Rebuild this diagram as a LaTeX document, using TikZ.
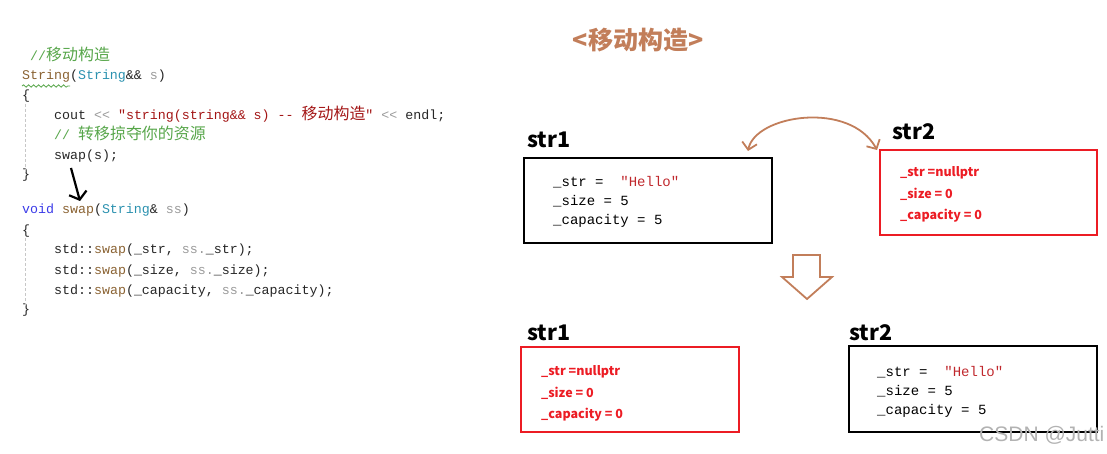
\documentclass[tikz,border=0pt]{standalone}
\usepackage{fontspec}
\setmonofont{Liberation Mono}
\newfontfamily\cjk{Noto Sans CJK SC}
\newfontfamily\cjkcode{Noto Sans CJK SC}[Scale=1.2]
\newfontfamily\wmark{Liberation Sans}
\usetikzlibrary{arrows.meta,decorations.pathmorphing}
\definecolor{cmt}{HTML}{57A64A}
\definecolor{typ}{HTML}{2B91AF}
\definecolor{kwd}{HTML}{3B3BE8}
\definecolor{fnc}{HTML}{8A6232}
\definecolor{lit}{HTML}{A31515}
\definecolor{prm}{HTML}{9A9A9A}
\definecolor{txt}{HTML}{262626}
\definecolor{umber}{HTML}{C27E5A}
\definecolor{alert}{HTML}{EC1C24}
\definecolor{hello}{HTML}{C0282D}
\newcommand{\ty}[1]{\textcolor{typ}{#1}}
\newcommand{\fn}[1]{\textcolor{fnc}{#1}}
\newcommand{\pr}[1]{\textcolor{prm}{#1}}

\begin{document}
\begin{tikzpicture}[x=1pt, y=-1pt,
  code/.style={anchor=base west, inner sep=0pt, text=txt, font=\ttfamily\fontsize{13.3}{16}\selectfont},
  memo/.style={anchor=base west, inner sep=0pt, text=black, font=\ttfamily\fontsize{14}{16}\selectfont},
  nulltext/.style={anchor=base west, inner sep=0pt, text=alert, font=\cjk\bfseries\fontsize{12.5}{15}\selectfont},
  objname/.style={anchor=base west, inner sep=0pt, font=\cjk\bfseries\fontsize{21.5}{24}\selectfont},
  oldbox/.style={draw=black, line width=2.6pt, inner sep=0pt, minimum width=248pt, minimum height=85pt},
  newbox/.style={draw=alert, line width=2.2pt, inner sep=0pt, minimum width=217pt, minimum height=85pt},
  guide/.style={densely dashed, line width=0.6pt, black!22}]
  \useasboundingbox (0,0) rectangle (1107,454);

  \node[code, text=cmt] (c1) at (30,61) {//{\cjkcode 移动构造}};
  \node[code] (c2) at (22,80) {\fn{String}(\ty{String}\&\& \pr{s})};
  \node[code] (c3) at (22,100) {\{};
  \node[code] (c4) at (54,120) {cout \pr{<{}<} \textcolor{lit}{"string(string\&\& s) {-}{-} {\cjkcode 移动构造}"} \pr{<{}<} endl;};
  \node[code, text=cmt] (c5) at (54,140) {// {\cjkcode 转移掠夺你的资源}};
  \node[code] (c6) at (54,160) {swap(s);};
  \node[code] (c7) at (22,179) {\}};
  \node[code] (c8) at (22,214) {\textcolor{kwd}{void} \fn{swap}(\ty{String}\& \pr{ss})};
  \node[code] (c9) at (22,234) {\{};
  \node[code] (c10) at (54,254) {std::\fn{swap}(\_str, \pr{ss.}\_str);};
  \node[code] (c11) at (54,274) {std::\fn{swap}(\_size, \pr{ss.}\_size);};
  \node[code] (c12) at (54,294) {std::\fn{swap}(\_capacity, \pr{ss.}\_capacity);};
  \node[code] (c13) at (22,313) {\}};
  \draw[cmt, line width=0.8pt, decorate, decoration={snake, amplitude=1.2pt, segment length=5pt}] (22,86) -- (70,86);
  \draw[guide] (25,104) -- (25,172);
  \draw[guide] (25,238) -- (25,306);

  \coordinate (penA) at (71,168);
  \coordinate (penB) at (80,201);
  \draw[line width=2.2pt, -{Straight Barb[length=7pt, width=18pt]}] (penA) -- (penB);

  \node[text=umber, font=\cjk\bfseries\fontsize{25}{28}\selectfont] (title) at (638,40) {<移动构造>};

  \node[objname] (n1) at (527,148) {str1};
  \node[oldbox] (s1a) at (648,200.5) {};
  \node[memo] (a1) at (553,187) {\_str =\ \ \textcolor{hello}{"Hello"}};
  \node[memo] (a2) at (553,206) {\_size = 5};
  \node[memo] (a3) at (553,225) {\_capacity = 5};

  \node[objname] (n2) at (892,140) {str2};
  \node[newbox] (s2a) at (988.5,192.5) {};
  \node[nulltext] (b1) at (900,177) {\_str =nullptr};
  \node[nulltext] (b2) at (900,199) {\_size = 0};
  \node[nulltext] (b3) at (900,220) {\_capacity = 0};

  \coordinate (swL) at (748,151);
  \coordinate (swR) at (877,150);
  \draw[umber, line width=1.8pt, {Straight Barb[length=7pt, width=15pt]}-{Straight Barb[length=7pt, width=15pt]}]
    (swL) .. controls (755,115) and (850,100) .. (swR);

  \draw[umber, line width=1.8pt, fill=white, line join=miter]
    (793,255) -- (820,255) -- (820,277) -- (832,277) -- (807,299) -- (782,277) -- (793,277) -- cycle;

  \node[objname] (n3) at (527,340) {str1};
  \node[newbox, minimum width=218pt] (s1b) at (630,389.5) {};
  \node[nulltext] (d1) at (541,375) {\_str =nullptr};
  \node[nulltext] (d2) at (541,397) {\_size = 0};
  \node[nulltext] (d3) at (541,418) {\_capacity = 0};

  \node[objname] (n4) at (849,340) {str2};
  \node[oldbox, minimum height=86pt] (s2b) at (973,389) {};
  \node[memo] (e1) at (877,376) {\_str =\ \ \textcolor{hello}{"Hello"}};
  \node[memo] (e2) at (877,395) {\_size = 5};
  \node[memo] (e3) at (877,414) {\_capacity = 5};

  \node[anchor=base west, inner sep=0pt, text=black!30, font=\wmark\fontsize{21}{24}\selectfont] (wm) at (979,441) {CSDN @Jutti};
\end{tikzpicture}
\end{document}
